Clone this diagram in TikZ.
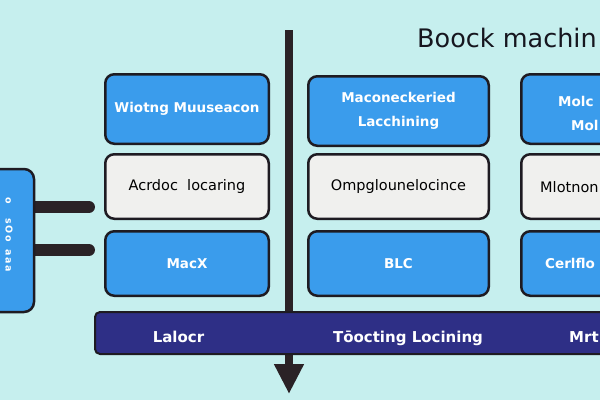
\documentclass[tikz,border=0pt]{standalone}
\usepackage{fontspec}
\setmainfont{DejaVu Sans}
\usetikzlibrary{arrows.meta}
\definecolor{bgc}{HTML}{C6EFEE}
\definecolor{boxblue}{HTML}{3A9CEC}
\definecolor{boxwhite}{HTML}{F0F0EE}
\definecolor{edgec}{HTML}{1E1B22}
\definecolor{barc}{HTML}{2E2F86}
\definecolor{stemc}{HTML}{2A2226}
\definecolor{titlec}{HTML}{16161F}
\pgfdeclarelayer{bg}
\pgfsetlayers{bg,main}
\begin{document}
\begin{tikzpicture}[x=1pt,y=-1pt,
  card/.style={draw=edgec,line width=2.5pt,rounded corners=9pt,inner sep=0pt,align=center},
  bluefont/.style={text=white,font=\bfseries\fontsize{13.5}{24}\selectfont},
  whitefont/.style={text=black,font=\fontsize{14.5}{20}\selectfont},
  bluecard/.style={card,fill=boxblue,bluefont},
  whitecard/.style={card,fill=boxwhite,whitefont},
  colA/.style={minimum width=163.5pt},
  colB/.style={minimum width=180.5pt},
  rowone/.style={minimum height=69.5pt},
  rowtwo/.style={minimum height=64.5pt},
  edgetext/.style={anchor=base west,inner sep=0pt},
  bartext/.style={text=white,inner sep=0pt,font=\bfseries\fontsize{15}{18}\selectfont},
  conn/.style={draw=stemc,line width=12pt,line cap=round},
  stemline/.style={draw=stemc,line width=8pt,-{Triangle[width=28pt,length=30pt]}}
]
\useasboundingbox (0,0) rectangle (600,400);
\begin{pgfonlayer}{bg}
  \fill[bgc] (0,0) rectangle (600,400);
\end{pgfonlayer}
\clip (0,0) rectangle (600,400);

% title
\node[anchor=base west,inner sep=0pt,text=titlec,font=\fontsize{25.5}{30}\selectfont] (title) at (417,47) {Boock machin};

% row 1
\node[bluecard,colA,rowone] (a1) at (187,109) {Wiotng Muuseacon};
\node[bluecard,colB,rowone] (b1) at (398.5,111) {Maconeckeried\\Lacchining};
\node[card,fill=boxblue,colB,rowone] (c1) at (611.5,109) {};
\node[edgetext,bluefont] (c1t1) at (558,106) {Molc};
\node[edgetext,bluefont] (c1t2) at (571,130) {Mol};
% row 2
\node[whitecard,colA,rowtwo] (a2) at (187,186.5) {Acrdoc\ \ locaring};
\node[whitecard,colB,rowtwo] (b2) at (398.5,186.5) {Ompglounelocince};
\node[card,fill=boxwhite,colB,rowtwo] (c2) at (611.5,186.5) {};
\node[edgetext,whitefont] (c2t) at (540,192) {Mlotnon};
% row 3
\node[bluecard,colA,rowtwo] (a3) at (187,263.5) {MacX};
\node[bluecard,colB,rowtwo] (b3) at (398.5,263.5) {BLC};
\node[card,fill=boxblue,colB,rowtwo] (c3) at (611.5,263.5) {};
\node[edgetext,bluefont] (c3t) at (545,268.5) {Cerlflo};

% left box
\node[card,fill=boxblue,minimum width=68pt,minimum height=143pt,rounded corners=10pt] (lb) at (0,240.5) {};
\node[rotate=-90,text=white,inner sep=0pt,font=\bfseries\fontsize{9.5}{11}\selectfont] (lbt) at (9,235) {o\hspace{14pt}s\,O\,o\hspace{8pt}a\,a\,a};

% bottom bar
\node[draw=edgec,fill=barc,line width=2pt,rounded corners=5pt,minimum width=540pt,minimum height=42pt,anchor=north west,inner sep=0pt] (bar) at (94,311) {};
\node[bartext,anchor=base] (bt1) at (178.5,342) {Lalocr};
\node[bartext,anchor=base] (bt2) at (408,342) {Tōocting Locining};
\node[bartext,anchor=base west] (bt3) at (569,342) {Mrt};

% stem and connectors
\coordinate (vtop) at (289,30);
\coordinate (vbot) at (289,394);
\coordinate (k1) at (89,207);
\coordinate (k2) at (89,250);
\begin{pgfonlayer}{bg}
  \draw[conn] (lb.east |- k1) -- (k1);
  \draw[conn] (lb.east |- k2) -- (k2);
  \draw[stemline] (vtop) -- (vbot);
\end{pgfonlayer}
\end{tikzpicture}
\end{document}
